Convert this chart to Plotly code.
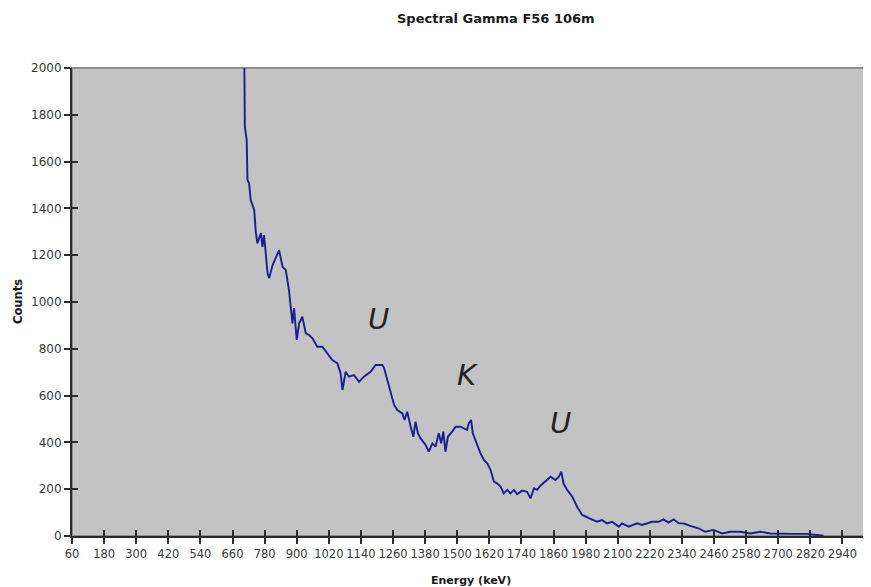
import plotly.graph_objects as go

# ---- data ----
energy_kev = [698, 704, 706, 713, 716, 722, 728, 741, 747, 753, 766, 772, 778, 791, 797,
              810, 834, 847, 859, 871, 878, 884, 890, 900, 909, 921, 934, 946, 959, 977,
              996, 1015, 1033, 1052, 1064, 1071, 1083, 1095, 1114, 1133, 1151, 1176, 1195,
              1220, 1226, 1232, 1245, 1251, 1264, 1276, 1295, 1303, 1313, 1326, 1336, 1344,
              1353, 1363, 1382, 1394, 1407, 1419, 1431, 1440, 1448, 1456, 1465, 1481, 1494,
              1512, 1525, 1537, 1543, 1552, 1558, 1568, 1575, 1587, 1600, 1612, 1625, 1637,
              1649, 1662, 1674, 1687, 1699, 1712, 1724, 1743, 1761, 1774, 1787, 1799, 1811,
              1830, 1849, 1867, 1880, 1889, 1898, 1911, 1930, 1948, 1967, 1992, 2023, 2041,
              2060, 2079, 2104, 2116, 2141, 2172, 2191, 2228, 2253, 2271, 2290, 2309, 2328,
              2346, 2371, 2402, 2427, 2458, 2490, 2521, 2558, 2595, 2633, 2670, 2707, 2757,
              2807, 2840, 2869]
counts = [3000, 2300, 1750, 1692, 1521, 1507, 1436, 1393, 1300, 1251, 1295, 1236, 1286, 1123, 1102,
          1158, 1222, 1151, 1137, 1051, 980, 909, 974, 838, 909, 937, 866, 859, 845, 809,
          809, 781, 752, 738, 695, 624, 702, 681, 688, 659, 681, 702, 731,
          731, 720, 695, 638, 610, 560, 538, 524, 496, 531, 467, 424, 488,
          439, 417, 389, 360, 396, 382, 439, 396, 446, 360, 424, 446, 467,
          467, 460, 453, 481, 496, 440, 410, 389, 353, 325, 311, 282, 232,
          225, 211, 182, 197, 182, 197, 179, 194, 189, 161, 204, 197, 215,
          232, 253, 239, 253, 275, 222, 197, 168, 125, 90, 76, 61, 68,
          54, 61, 40, 54, 40, 54, 47, 61, 61, 71, 57, 71, 54,
          54, 43, 33, 18, 26, 11, 18, 18, 11, 18, 11, 9, 9,
          9, 4, 1]

peak_labels = ["U", "K", "U"]
peak_energy = [1207, 1538, 1886]
peak_counts = [926, 688, 484]

title_text = "Spectral Gamma F56 106m"
x_title = "Energy (keV)"
y_title = "Counts"

FONT = "DejaVu Sans"
AXIS_COL = "#2a2a2a"

fig = go.Figure()
fig.add_trace(go.Scatter(x=energy_kev, y=counts, mode="lines",
                         line=dict(color="#1c1c96", width=1.9),
                         showlegend=False, hoverinfo="x+y"))
# dummy traces to realise overlay axes (inside half of crossing tick marks)
fig.add_trace(go.Scatter(x=[None], y=[None], xaxis="x2", yaxis="y", showlegend=False))
fig.add_trace(go.Scatter(x=[None], y=[None], xaxis="x", yaxis="y2", showlegend=False))

xr = [60, 3043]
yr = [0, 2000]

for txt, ex, cy in zip(peak_labels, peak_energy, peak_counts):
    fig.add_annotation(x=ex, y=cy, text=f"<i>{txt}</i>", showarrow=False,
                       xanchor="center", yanchor="middle",
                       font=dict(family=FONT, size=29, color="#222222"))

fig.add_annotation(x=0.531, y=1, xref="paper", yref="paper", yshift=50,
                   xanchor="center", yanchor="middle",
                   text=f"<b>{title_text}</b>", showarrow=False,
                   font=dict(family=FONT, size=13, color="#1a1a1a"))
fig.add_annotation(x=0.5, y=0, xref="paper", yref="paper", yshift=-44,
                   xanchor="center", yanchor="middle",
                   text=f"<b>{x_title}</b>", showarrow=False,
                   font=dict(family=FONT, size=11, color="#1a1a1a"))
fig.add_annotation(x=0, y=0.5, xref="paper", yref="paper", xshift=-54,
                   xanchor="center", yanchor="middle",
                   text=f"<b>{y_title}</b>", showarrow=False, textangle=-90,
                   font=dict(family=FONT, size=11.5, color="#1a1a1a"))

fig.add_shape(type="rect", xref="x domain", yref="y domain", x0=0, x1=1, y0=0, y1=1,
              line=dict(color="#8e8e8e", width=2), layer="below")

tickfont_x = dict(family=FONT, size=11.5, color="#3a3a3a")
tickfont_y = dict(family=FONT, size=12, color="#3a3a3a")

# the page body adds an 8px offset, so the figure is sized/margined to compensate
fig.update_layout(
    width=863, height=579,
    margin=dict(l=64, r=1, t=60, b=51),
    paper_bgcolor="white",
    plot_bgcolor="#c3c3c3",
    xaxis=dict(range=xr, tick0=60, dtick=120, showgrid=False, zeroline=False,
               showline=True, linecolor=AXIS_COL, linewidth=2, automargin=False,
               ticks="outside", ticklen=6, tickwidth=2, tickcolor=AXIS_COL,
               tickfont=tickfont_x, tickangle=0),
    xaxis2=dict(range=xr, tick0=60, dtick=120, overlaying="x", anchor="y", side="bottom",
                showgrid=False, zeroline=False, showline=False, showticklabels=False,
                automargin=False,
                ticks="inside", ticklen=6, tickwidth=2, tickcolor=AXIS_COL),
    yaxis=dict(range=yr, tick0=0, dtick=200, showgrid=False, zeroline=False,
               showline=True, linecolor=AXIS_COL, linewidth=2, automargin=False,
               ticks="outside", ticklen=6, tickwidth=2, tickcolor=AXIS_COL,
               tickfont=tickfont_y),
    yaxis2=dict(range=yr, tick0=0, dtick=200, overlaying="y", anchor="x", side="left",
                showgrid=False, zeroline=False, showline=False, showticklabels=False,
                automargin=False,
                ticks="inside", ticklen=6, tickwidth=2, tickcolor=AXIS_COL),
)

fig.write_html("out.html")
